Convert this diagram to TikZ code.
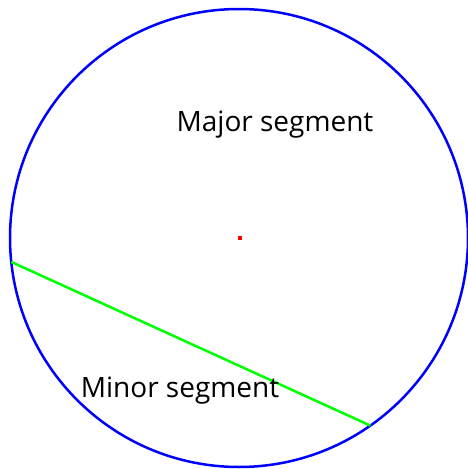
\documentclass[tikz,border=0pt]{standalone}
\usepackage{fontspec}
\setmainfont{Open Sans}
\usetikzlibrary{positioning}

\begin{document}
\begin{tikzpicture}[
    x=1pt, y=-1pt,
    rim/.style={
        draw=blue,
        line width=2.5pt,
        circle,
        inner sep=0pt,
        outer sep=0pt,
        minimum size=458pt
    },
    chord/.style={
        draw=green,
        line width=2.5pt
    },
    centre/.style={
        fill=red,
        inner sep=0pt,
        minimum size=4pt
    },
    label/.style={
        font=\fontsize{28}{32}\selectfont,
        inner sep=0pt
    }
]
\useasboundingbox (0,0) rectangle (468,469);

% Circle and centre
\node[rim] (circ) at (239,238) {};
\node[centre] (dot) at (240,238) {};

% Chord
\coordinate (pa) at (circ.186);
\coordinate (pb) at (circ.305);
\draw[chord] (pa) -- (pb);

% Labels
\node[label] (major) at (275,125) {Major segment};
\node[label] (minor) at (180,391) {Minor segment};

\end{tikzpicture}
\end{document}
